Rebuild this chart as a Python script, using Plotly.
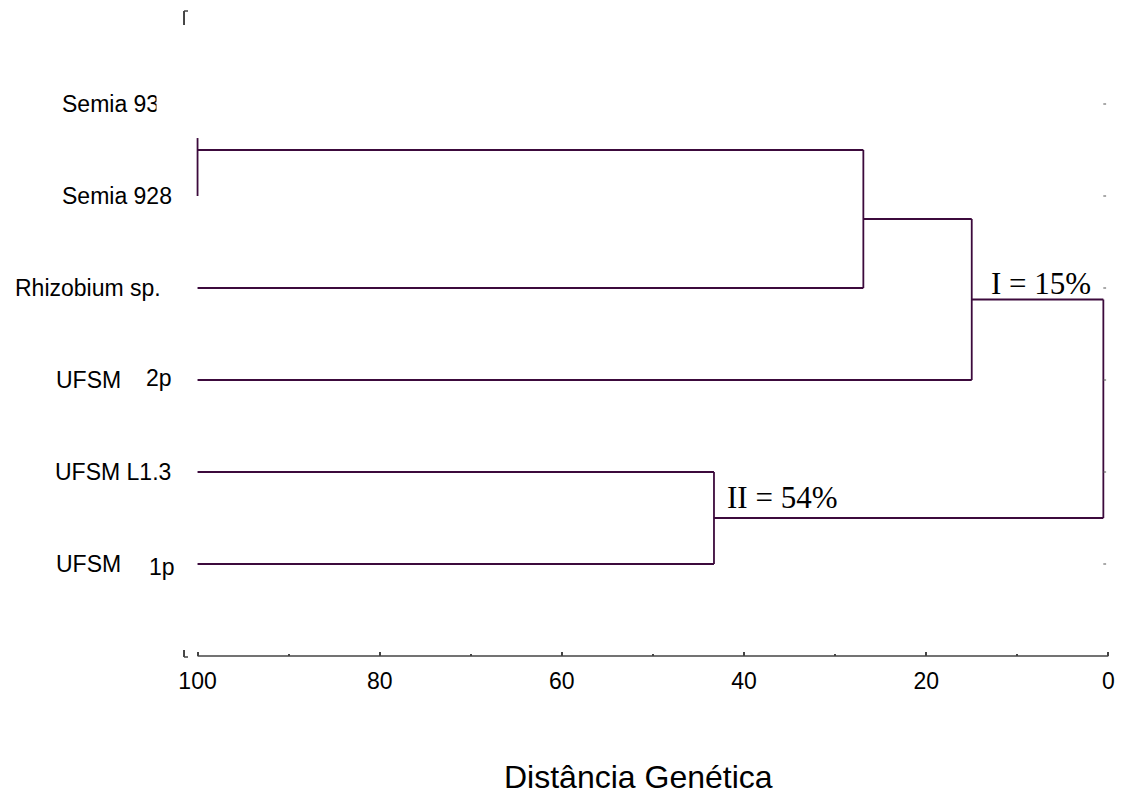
import plotly.graph_objects as go

# ---------------- data ----------------
leaf_names = ["Semia 93", "Semia 928", "Rhizobium sp.", "UFSM", "UFSM L1.3", "UFSM"]
leaf_suffix = ["", "", "", "2p", "", "1p"]
leaf_pos = [6, 5, 4, 3, 2, 1]

# dendrogram merges (children: "L#" leaf index, "M#" merge index) and merge distances
merge_children = [("L0", "L1"), ("M0", "L2"), ("M1", "L3"), ("L4", "L5"), ("M2", "M3")]
merge_height = [100.0, 26.9, 15.0, 43.3, 0.55]
# the drawn vertical of the first merge only reaches part way up (as in the original)
merge_span_override = {0: (5.0, 5.63)}

group_labels = ["I = 15%", "II = 54%"]
group_label_x = [13.1, 42.1]
group_label_y = [4.05, 1.72]

x_ticks = [0, 20, 40, 60, 80, 100]
x_minor_ticks = [10, 30, 50, 70, 90]
x_title = "Distância Genética"

# ---------------- layout geometry ----------------
W, H = 1121, 794
ML, MR, MT, MB = 193, 6, 12, 138
X_RANGE = [100.5, -0.4]
Y_RANGE = [0, 7]
PW = W - ML - MR
PH = H - MT - MB

def px_x(px):
    return (px - ML) / PW

def px_y(py):
    return (H - MB - py) / PH

def data_x_to_paper(v):
    return (X_RANGE[0] - v) / (X_RANGE[0] - X_RANGE[1])

LINE_COLOR = "#3c0a3c"
AXIS_COLOR = "#444444"
SANS = "Liberation Sans, Arial, sans-serif"
SERIF = "Liberation Serif, Times New Roman, serif"

# ---------------- build dendrogram segments ----------------
node_y = {}
node_x = {}
for i, p in enumerate(leaf_pos):
    node_y["L%d" % i] = p
    node_x["L%d" % i] = 100.0

xs, ys = [], []
for m, (a, b) in enumerate(merge_children):
    h = merge_height[m]
    for c in (a, b):
        if node_x[c] != h:
            xs += [node_x[c], h, None]
            ys += [node_y[c], node_y[c], None]
    lo, hi = merge_span_override.get(m, (min(node_y[a], node_y[b]), max(node_y[a], node_y[b])))
    xs += [h, h, None]
    ys += [lo, hi, None]
    node_y["M%d" % m] = (node_y[a] + node_y[b]) / 2
    node_x["M%d" % m] = h

fig = go.Figure()
fig.add_trace(go.Scatter(x=xs, y=ys, mode="lines",
                         line=dict(color=LINE_COLOR, width=1.8),
                         hoverinfo="skip", showlegend=False))
# small tick marks at the right edge, one per leaf row
fig.add_trace(go.Scatter(x=[0.4] * len(leaf_pos), y=leaf_pos, mode="markers",
                         marker=dict(symbol="line-ew", size=2,
                                     line=dict(color="#555555", width=1)),
                         hoverinfo="skip", showlegend=False, cliponaxis=False))

annotations = []
# leaf labels
label_left_px = [60, 60, 12, 54, 53, 54]
suffix_left_px = [None, None, None, 144, None, 147]
suffix_dy = [0, 0, 0, 0.02, 0, -0.03]
for i, name in enumerate(leaf_names):
    annotations.append(dict(text=name, xref="paper", yref="y", x=px_x(label_left_px[i]),
                            y=leaf_pos[i], xanchor="left", yanchor="middle", showarrow=False,
                            font=dict(family=SANS, size=23, color="black")))
    if leaf_suffix[i]:
        annotations.append(dict(text=leaf_suffix[i], xref="paper", yref="y",
                                x=px_x(suffix_left_px[i]), y=leaf_pos[i] + suffix_dy[i],
                                xanchor="left", yanchor="middle", showarrow=False,
                                font=dict(family=SANS, size=23, color="black")))
# the first label is cut off at its right side in the original
annotations.append(dict(text=" ", xref="paper", yref="y", x=px_x(156), y=leaf_pos[0],
                        xanchor="left", yanchor="middle", showarrow=False,
                        width=14, height=28, bgcolor="white", borderpad=0,
                        font=dict(family=SANS, size=12, color="white")))
# group labels
for t, gx, gy in zip(group_labels, group_label_x, group_label_y):
    annotations.append(dict(text=t, xref="x", yref="y", x=gx, y=gy, xanchor="left",
                            yanchor="middle", showarrow=False,
                            font=dict(family=SERIF, size=31, color="black")))
# axis title
annotations.append(dict(text=x_title, xref="paper", yref="paper", x=px_x(640), y=px_y(777),
                        xanchor="center", yanchor="middle", showarrow=False,
                        font=dict(family=SANS, size=32, color="black")))

shapes = [
    # x axis line between 100 and 0
    dict(type="line", xref="paper", yref="paper", x0=data_x_to_paper(100), x1=data_x_to_paper(0),
         y0=0, y1=0, line=dict(color=AXIS_COLOR, width=1.5)),
    # remnants of a left frame (top and bottom corners)
    dict(type="line", xref="paper", yref="paper", x0=px_x(184), x1=px_x(184), y0=px_y(11), y1=px_y(25),
         line=dict(color=AXIS_COLOR, width=2)),
    dict(type="line", xref="paper", yref="paper", x0=px_x(184), x1=px_x(188), y0=px_y(11), y1=px_y(11),
         line=dict(color=AXIS_COLOR, width=1.5)),
    dict(type="line", xref="paper", yref="paper", x0=px_x(184), x1=px_x(184), y0=px_y(650), y1=px_y(657),
         line=dict(color=AXIS_COLOR, width=2)),
    dict(type="line", xref="paper", yref="paper", x0=px_x(184), x1=px_x(188), y0=px_y(657), y1=px_y(657),
         line=dict(color=AXIS_COLOR, width=1.5)),
]

fig.update_layout(
    width=W, height=H, autosize=False,
    margin=dict(l=ML, r=MR, t=MT, b=MB, pad=0),
    paper_bgcolor="white", plot_bgcolor="white",
    showlegend=False,
    xaxis=dict(range=X_RANGE, tickvals=x_ticks, ticktext=[str(v) for v in x_ticks],
               ticks="inside", ticklen=4, tickwidth=1.5, tickcolor=AXIS_COLOR,
               ticklabelstandoff=9,
               minor=dict(tickvals=x_minor_ticks, ticks="inside", ticklen=2,
                          tickwidth=1.5, tickcolor=AXIS_COLOR),
               showline=False, showgrid=False, zeroline=False,
               tickfont=dict(family=SANS, size=23, color="black")),
    yaxis=dict(range=Y_RANGE, showticklabels=False, ticks="", showgrid=False,
               zeroline=False, showline=False),
    annotations=annotations,
    shapes=shapes,
)

fig.write_html("out.html")
